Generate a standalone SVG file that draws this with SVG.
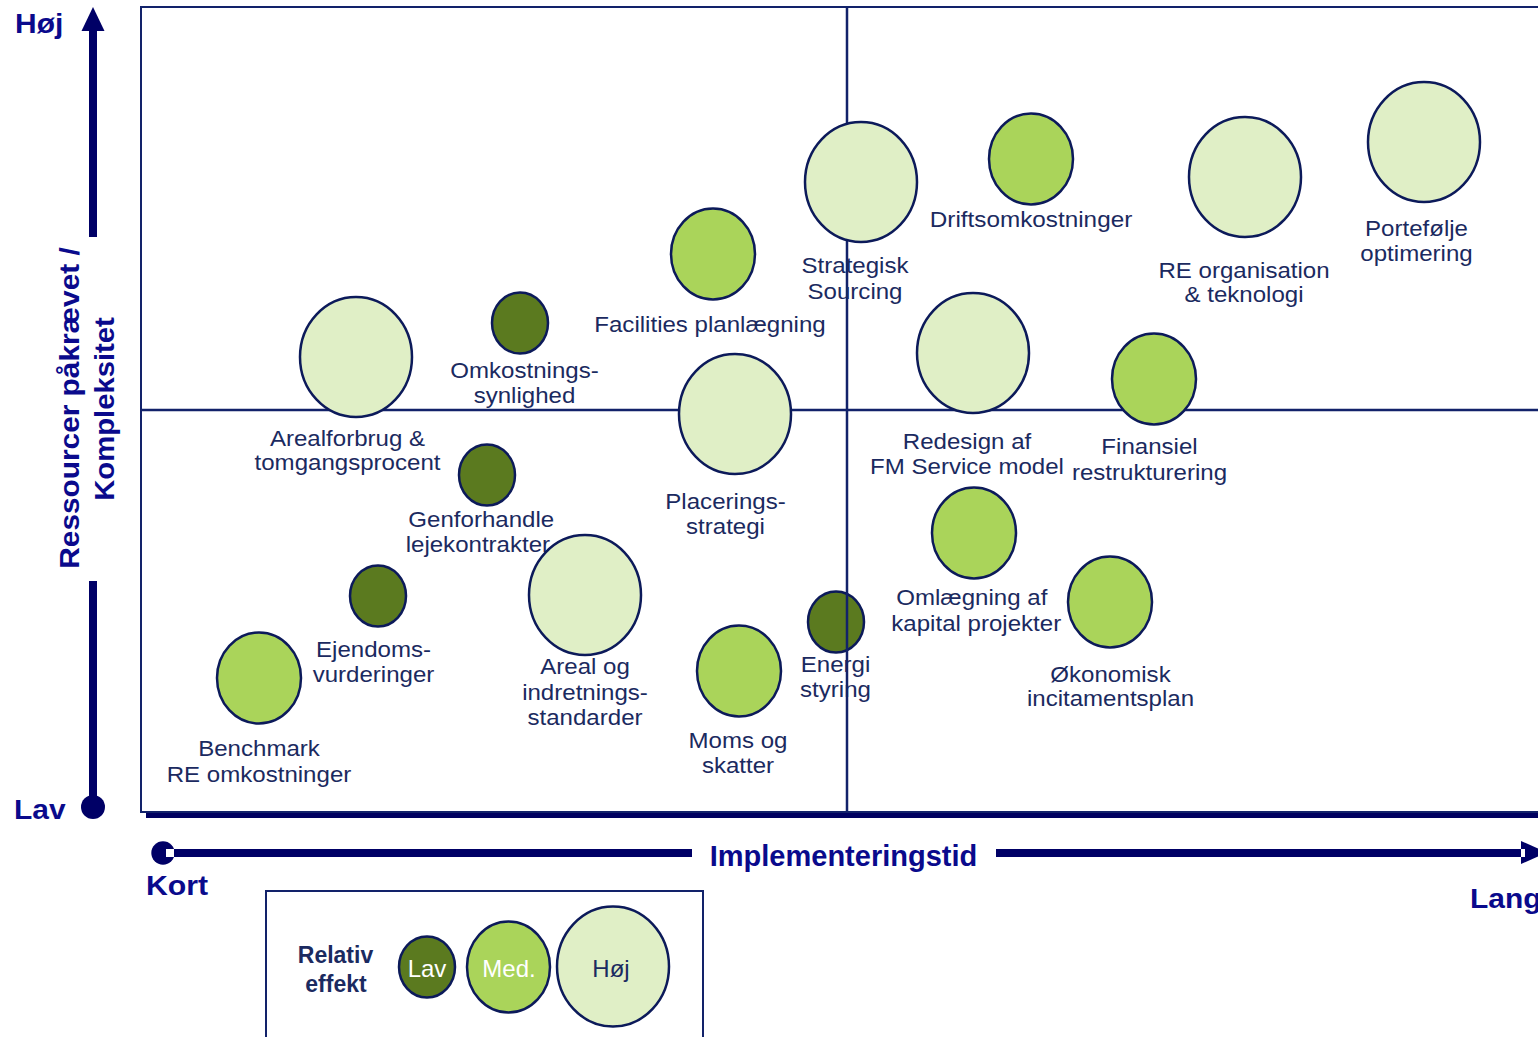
<svg xmlns="http://www.w3.org/2000/svg" width="1538" height="1037" viewBox="0 0 1538 1037">
<style>
.lbl{font-family:"Liberation Sans",Arial,sans-serif;font-size:21.5px;fill:#1b2a60;text-anchor:middle}
.ax{font-family:"Liberation Sans",Arial,sans-serif;font-weight:bold;fill:#0a0a8c}
.lo{fill:#5b7a1f;stroke:#0c1a5a;stroke-width:2.5}
.md{fill:#aad45a;stroke:#0c1a5a;stroke-width:2.5}
.hi{fill:#e0efc6;stroke:#0c1a5a;stroke-width:2.5}
.grid{stroke:#12226a;stroke-width:2.5;fill:none}
.axis{fill:#000066}
.leg{font-family:"Liberation Sans",Arial,sans-serif;font-size:24px;text-anchor:middle}
</style>
<rect width="1538" height="1037" fill="#ffffff"/>
<g id="frame">
  <rect x="141" y="7" width="1410" height="805" fill="none" stroke="#12226a" stroke-width="2"/>
  <rect x="146" y="813" width="1400" height="5" fill="#000060"/>
</g>
<g id="n-energi">
  <ellipse class="lo" cx="836" cy="622" rx="28" ry="30.5"/>
  <text class="lbl" transform="translate(835.5 0) scale(1.12 1)"><tspan x="0" y="672">Energi</tspan><tspan x="0" y="697">styring</tspan></text>
</g>
<g id="quadrants">
  <line class="grid" x1="847" y1="7" x2="847" y2="812"/>
  <line class="grid" x1="141" y1="410" x2="1538" y2="410"/>
</g>
<g id="n-strategisk">
  <ellipse class="hi" cx="861" cy="182" rx="56" ry="60"/>
  <text class="lbl" transform="translate(855 0) scale(1.12 1)"><tspan x="0" y="273">Strategisk</tspan><tspan x="0" y="299">Sourcing</tspan></text>
</g>
<g id="n-drift">
  <ellipse class="md" cx="1031" cy="159" rx="42" ry="45.5"/>
  <text class="lbl" transform="translate(1031 0) scale(1.13 1)"><tspan x="0" y="227">Driftsomkostninger</tspan></text>
</g>
<g id="n-reorg">
  <ellipse class="hi" cx="1245" cy="177" rx="56" ry="60"/>
  <text class="lbl" transform="translate(1244 0) scale(1.12 1)"><tspan x="0" y="278">RE organisation</tspan><tspan x="0" y="302">&amp; teknologi</tspan></text>
</g>
<g id="n-portefolje">
  <ellipse class="hi" cx="1424" cy="142" rx="56" ry="60"/>
  <text class="lbl" transform="translate(1416.5 0) scale(1.12 1)"><tspan x="0" y="236">Portefølje</tspan><tspan x="0" y="261">optimering</tspan></text>
</g>
<g id="n-facilities">
  <ellipse class="md" cx="713" cy="254" rx="42" ry="45.5"/>
  <text class="lbl" transform="translate(710 0) scale(1.12 1)"><tspan x="0" y="332">Facilities planlægning</tspan></text>
</g>
<g id="n-omk">
  <ellipse class="lo" cx="520" cy="323" rx="28" ry="30.5"/>
  <text class="lbl" transform="translate(524.5 0) scale(1.12 1)"><tspan x="0" y="378">Omkostnings-</tspan><tspan x="0" y="403">synlighed</tspan></text>
</g>
<g id="n-areal">
  <ellipse class="hi" cx="356" cy="357" rx="56" ry="60"/>
  <text class="lbl" transform="translate(347.5 0) scale(1.12 1)"><tspan x="0" y="446">Arealforbrug &amp;</tspan><tspan x="0" y="470">tomgangsprocent</tspan></text>
</g>
<g id="n-placering">
  <ellipse class="hi" cx="735" cy="414" rx="56" ry="60"/>
  <text class="lbl" transform="translate(725.5 0) scale(1.12 1)"><tspan x="0" y="509">Placerings-</tspan><tspan x="0" y="534">strategi</tspan></text>
</g>
<g id="n-redesign">
  <ellipse class="hi" cx="973" cy="353" rx="56" ry="60"/>
  <text class="lbl" transform="translate(967 0) scale(1.12 1)"><tspan x="0" y="449">Redesign af</tspan><tspan x="0" y="474">FM Service model</tspan></text>
</g>
<g id="n-finansiel">
  <ellipse class="md" cx="1154" cy="379" rx="42" ry="45.5"/>
  <text class="lbl" transform="translate(1149.5 0) scale(1.12 1)"><tspan x="0" y="454">Finansiel</tspan><tspan x="0" y="480">restrukturering</tspan></text>
</g>
<g id="n-genforhandle">
  <ellipse class="lo" cx="487" cy="475" rx="28" ry="30.5"/>
  <text class="lbl" transform="translate(479 0) scale(1.12 1)"><tspan x="2" y="527">Genforhandle</tspan><tspan x="-1" y="552">lejekontrakter</tspan></text>
</g>
<g id="n-arealog">
  <ellipse class="hi" cx="585" cy="595" rx="56" ry="60"/>
  <text class="lbl" transform="translate(585 0) scale(1.12 1)"><tspan x="0" y="674">Areal og</tspan><tspan x="0" y="700">indretnings-</tspan><tspan x="0" y="725">standarder</tspan></text>
</g>
<g id="n-omlaegning">
  <ellipse class="md" cx="974" cy="533" rx="42" ry="45.5"/>
  <text class="lbl" transform="translate(974 0) scale(1.12 1)"><tspan x="-2" y="605">Omlægning af</tspan><tspan x="2" y="631">kapital projekter</tspan></text>
</g>
<g id="n-okonomisk">
  <ellipse class="md" cx="1110" cy="602" rx="42" ry="45.5"/>
  <text class="lbl" transform="translate(1110.5 0) scale(1.12 1)"><tspan x="0" y="682">Økonomisk</tspan><tspan x="0" y="706">incitamentsplan</tspan></text>
</g>
<g id="n-ejendom">
  <ellipse class="lo" cx="378" cy="596" rx="28" ry="30.5"/>
  <text class="lbl" transform="translate(373.5 0) scale(1.12 1)"><tspan x="0" y="657">Ejendoms-</tspan><tspan x="0" y="682">vurderinger</tspan></text>
</g>
<g id="n-benchmark">
  <ellipse class="md" cx="259" cy="678" rx="42" ry="45.5"/>
  <text class="lbl" transform="translate(259 0) scale(1.12 1)"><tspan x="0" y="756">Benchmark</tspan><tspan x="0" y="782">RE omkostninger</tspan></text>
</g>
<g id="n-moms">
  <ellipse class="md" cx="739" cy="671" rx="42" ry="45.5"/>
  <text class="lbl" transform="translate(738 0) scale(1.12 1)"><tspan x="0" y="748">Moms og</tspan><tspan x="0" y="773">skatter</tspan></text>
</g>
<g id="y-axis">
  <polygon class="axis" points="93,7 81.5,31 104.5,31"/>
  <rect class="axis" x="89" y="29" width="8" height="208"/>
  <rect class="axis" x="89" y="581" width="8" height="226"/>
  <circle class="axis" cx="93" cy="807" r="12"/>
  <text class="ax" font-size="28" transform="translate(15 33) scale(1.07 1)">Høj</text>
  <text class="ax" font-size="28" transform="translate(14 819) scale(1.07 1)">Lav</text>
  <text class="ax" font-size="28" text-anchor="middle" transform="translate(79 408) rotate(-90) scale(1.065 1)">Ressourcer påkrævet /</text>
  <text class="ax" font-size="28" text-anchor="middle" transform="translate(114 409) rotate(-90) scale(1.045 1)">Kompleksitet</text>
</g>
<g id="x-axis">
  <circle class="axis" cx="163" cy="853" r="11.7"/>
  <rect x="166" y="849" width="8" height="8" fill="#ffffff"/>
  <rect class="axis" x="174" y="849" width="518" height="8"/>
  <rect class="axis" x="996" y="849" width="525" height="8"/>
  <polygon class="axis" points="1521,841 1547,852.5 1521,864"/>
  <rect x="1521" y="849" width="4" height="8" fill="#ffffff"/>
  <text class="ax" x="843.5" y="866" font-size="29" text-anchor="middle">Implementeringstid</text>
  <text class="ax" font-size="28" transform="translate(146 895) scale(1.08 1)">Kort</text>
  <text class="ax" font-size="28" transform="translate(1470 908) scale(1.07 1)">Lang</text>
</g>
<g id="legend">
  <rect x="266" y="891" width="437" height="160" fill="none" stroke="#12226a" stroke-width="2"/>
  <text class="ax" font-size="23" text-anchor="middle" style="fill:#1b2a60"><tspan x="335.5" y="963">Relativ</tspan><tspan x="336" y="992">effekt</tspan></text>
  <ellipse class="lo" cx="427" cy="967" rx="28" ry="30.5"/>
  <text class="leg" x="427" y="977" fill="#ffffff">Lav</text>
  <ellipse class="md" cx="508.5" cy="967" rx="41.5" ry="45.5"/>
  <text class="leg" x="509" y="977" fill="#ffffff">Med.</text>
  <ellipse class="hi" cx="613" cy="966.5" rx="56" ry="60"/>
  <text class="leg" x="611" y="977" fill="#1b2a60">Høj</text>
</g>
</svg>
